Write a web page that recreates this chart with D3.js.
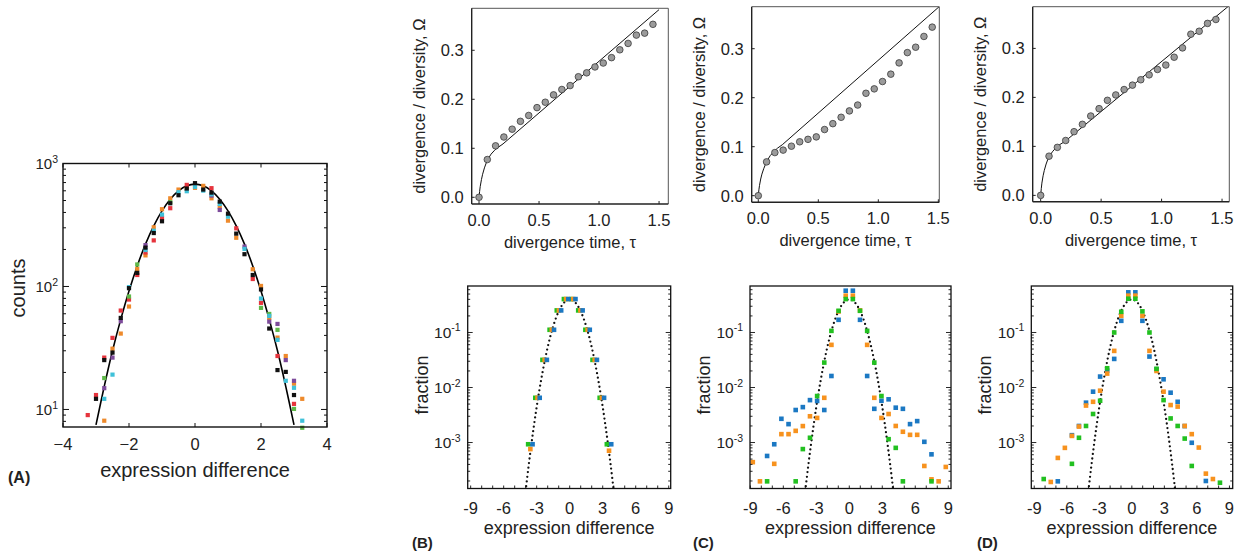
<!DOCTYPE html>
<html>
<head>
<meta charset="utf-8">
<script src="https://cdn.jsdelivr.net/npm/d3@7"></script>
<style>
  body { margin: 0; background: #fff; }
  svg { display: block; }
  text { font-family: "Liberation Sans", Arial, Helvetica, sans-serif; fill: #222; }
</style>
</head>
<body>
<svg id="fig" width="1244" height="557"></svg>
<script>
const _ = null;

// ---------- (A) counts of expression differences, six replicate series ----------
const countBins = [-3.25,-3,-2.75,-2.5,-2.25,-2,-1.75,-1.5,-1.25,-1,-0.75,-0.5,-0.25,0,0.25,0.5,0.75,1,1.25,1.5,1.75,2,2.25,2.5,2.75,3,3.25];
const countsRed    = [9.0,13.1,26.4,38.2,63.7,78.3,124,189,237,361,433,_,670,_,_,630,_,_,297,_,115,73.6,_,27.2,_,11.1,_];
const countsOrange = [_,_,8.1,31.2,41.4,68.7,139,179,303,425,521,614,622,634,658,521,443,343,249,_,138,101,55.5,38.4,27.2,16.2,12.2];
const countsPurple = [_,_,14.9,26.4,52.2,_,_,217,_,_,_,_,_,_,_,548,419,_,_,211,_,_,51.8,49.6,25.2,17.1,_];
const countsGreen  = [_,_,18.0,_,_,82.9,151,_,_,_,484,_,_,_,_,_,_,_,_,_,_,67.0,59.8,44.4,_,10.1,7.1];
const countsCyan   = [_,_,12.2,19.2,_,98.8,_,198,284,384,_,584,595,646,602,562,469,370,_,202,_,79.8,57.6,36.8,17.1,15.0,8.1];
const countsBlack  = [_,12.2,25.2,29.0,55.5,96.9,129,207,272,339,475,552,626,692,614,580,490,391,269,183,124,94.6,45.5,20.9,20.2,13.1,_];
const countFitX = [-3,-2.75,-2.5,-2.25,-2,-1.75,-1.5,-1.25,-1,-0.75,-0.5,-0.25,0,0.25,0.5,0.75,1,1.25,1.5,1.75,2,2.25,2.5,2.75,3];
const countFitY = [7.5,15.4,30,54,92,147,221,311,412,513,600,659,680,659,600,513,412,311,221,147,92,54,30,15.4,7.5];
const countTicksX = [-4,-2,0,2,4];
const countTicksY = [10,100,1000];

// ---------- (B)-(D) top: divergence / diversity against divergence time ----------
const divTime = [0,0.069,0.138,0.207,0.276,0.345,0.414,0.483,0.552,0.621,0.69,0.759,0.828,0.897,0.966,1.035,1.104,1.173,1.242,1.311,1.38,1.449];
const omegaB = [0,0.077,0.105,0.123,0.139,0.155,0.167,0.183,0.194,0.209,0.220,0.228,0.246,0.254,0.266,0.274,0.285,0.301,0.314,0.331,0.335,0.353];
const omegaC = [0,0.069,0.088,0.093,0.101,0.110,0.115,0.120,0.135,0.147,0.160,0.173,0.185,0.209,0.218,0.233,0.248,0.271,0.292,0.303,0.325,0.344];
const omegaD = [0,0.080,0.098,0.112,0.130,0.145,0.162,0.177,0.194,0.205,0.216,0.225,0.236,0.246,0.257,0.266,0.282,0.301,0.329,0.335,0.351,0.359];
const theoryTauB = [0,0.005,0.01,0.02,0.03,0.045,0.06,0.08,0.1,0.13,0.16,0.2,1.5];
const theoryB    = [0,0.012,0.022,0.036,0.047,0.060,0.070,0.080,0.088,0.096,0.102,0.109,0.383];
const theoryTauC = [0,0.005,0.01,0.02,0.03,0.045,0.06,0.08,0.1,0.13,0.16,0.2,1.508];
const theoryC    = [0,0.012,0.021,0.034,0.044,0.055,0.064,0.074,0.082,0.090,0.097,0.104,0.386];
const theoryTauD = [0,0.005,0.01,0.02,0.03,0.045,0.06,0.08,0.1,0.13,0.16,0.2,1.56];
const theoryD    = [0,0.014,0.025,0.040,0.051,0.064,0.074,0.083,0.090,0.098,0.104,0.110,0.3875];
const tauTicks = [0,0.5,1,1.5];
const tauTickLabels = ["0.0","0.5","1.0","1.5"];
const omegaTicks = [0,0.1,0.2,0.3];
const omegaTickLabels = ["0.0","0.1","0.2","0.3"];

// ---------- (B)-(D) bottom: fraction per expression-difference bin ----------
const fracBins = [-8.775,-8.125,-7.475,-6.825,-6.175,-5.525,-4.875,-4.225,-3.575,-2.925,-2.275,-1.625,-0.975,-0.325,
                  0.325,0.975,1.625,2.275,2.925,3.575,4.225,4.875,5.525,6.175,6.825,7.475,8.125,8.775];
const fracGreenB  = [_,_,_,_,_,_,_,_,0.00093,0.0065,0.0318,0.112,0.252,0.405,0.405,0.252,0.112,0.0318,0.0065,0.00093,_,_,_,_,_,_,_,_];
const fracOrangeB = [_,_,_,_,_,_,_,_,0.00076,0.0065,0.0318,0.112,0.252,0.405,0.405,0.252,0.112,0.0318,0.0065,0.00071,_,_,_,_,_,_,_,_];
const fracBlueB   = [_,_,_,_,_,_,_,_,0.00093,0.0065,0.0318,0.112,0.252,0.405,0.405,0.252,0.112,0.0318,0.0065,0.00093,_,_,_,_,_,_,_,_];
const fracBlueC   = [_,_,5.7e-4,9.3e-4,2.7e-3,2.16e-3,3.9e-3,4.4e-3,5.9e-3,5.7e-3,3.9e-3,0.0162,0.17,0.575,0.575,0.17,0.0162,4.1e-3,5.75e-3,6.1e-3,4.3e-3,4.1e-3,2.16e-3,2.45e-3,1.03e-3,6.1e-4,_,_];
const fracOrangeC = [4.4e-4,1.97e-4,_,4.1e-4,1.42e-3,1.42e-3,1.63e-3,1.99e-3,3.0e-3,2.8e-3,6.5e-3,0.0596,0.241,0.467,0.467,0.252,0.0596,6.5e-3,2.8e-3,3.3e-3,2.0e-3,1.57e-3,1.38e-3,1.38e-3,3.75e-4,2.14e-4,1.97e-4,3.6e-4];
const fracGreenC  = [_,_,1.97e-4,_,_,_,1.97e-4,7.6e-4,1.22e-3,7.0e-3,0.0284,0.107,0.248,0.405,0.405,0.248,0.107,0.0284,7.0e-3,1.15e-3,8.0e-4,1.97e-4,_,_,_,1.97e-4,_,_];
const fracBlueD   = [_,_,_,1.97e-4,_,1.36e-3,2.0e-3,5.3e-3,8.4e-3,0.0158,0.0203,0.0331,0.163,0.537,0.537,0.163,0.0365,0.0214,0.0141,8.05e-3,5.5e-3,1.99e-3,9.9e-4,_,2.0e-4,_,_,_];
const fracOrangeD = [_,_,1.92e-4,5.25e-4,8.0e-4,1.32e-3,1.95e-3,4.7e-3,5.5e-3,8.75e-3,0.0179,0.0463,0.201,0.467,0.467,0.201,0.0463,0.02,8.4e-3,4.8e-3,4.5e-3,2.0e-3,1.42e-3,8.1e-4,2.72e-4,2.17e-4,_,_];
const fracGreenD  = [_,2.17e-4,_,_,_,4.1e-4,1.22e-3,2.0e-3,3.3e-3,5.75e-3,0.0224,0.1,0.238,0.411,0.411,0.242,0.1,0.0219,5.9e-3,2.74e-3,2.0e-3,1.18e-3,3.75e-4,_,_,_,1.86e-4,_];
const neutralX = [-4,-3.75,-3.5,-3.25,-3,-2.75,-2.5,-2.25,-2,-1.75,-1.5,-1.25,-1,-0.75,-0.5,-0.25,0,
                  0.25,0.5,0.75,1,1.25,1.5,1.75,2,2.25,2.5,2.75,3,3.25,3.5,3.75,4];
const neutralY = [0.000134,0.000353,0.00087,0.00203,0.00443,0.00909,0.0175,0.0317,0.054,0.0863,0.1295,0.183,0.242,0.301,0.352,0.387,0.399,
                  0.387,0.352,0.301,0.242,0.183,0.1295,0.0863,0.054,0.0317,0.0175,0.00909,0.00443,0.00203,0.00087,0.000353,0.000134];
const diffTicks = [-9,-6,-3,0,3,6,9];
const diffMinorTicks = d3.range(-9, 10, 1);
const fracTicks = [1e-3,1e-2,1e-1];
const fracTickExp = ["-3","-2","-1"];

// ---------- palette ----------
const colA = { red:"#e6343d", orange:"#ee8a2c", purple:"#7d4b9b", green:"#5eb848", cyan:"#3fc1d9", black:"#111" };
const colF = { blue:"#1b78c3", orange:"#f7921e", green:"#22c020" };

const svg = d3.select("#fig");
const defs = svg.append("defs");
let clipCount = 0;
function makeClip(x0, y0, x1, y1) {
  const id = "clip" + (clipCount++);
  defs.append("clipPath").attr("id", id).append("rect")
    .attr("x", x0).attr("y", y0).attr("width", x1 - x0).attr("height", y1 - y0);
  return "url(#" + id + ")";
}
function hline(g, x1, x2, y, stroke, w) {
  g.append("line").attr("x1", x1).attr("x2", x2).attr("y1", y).attr("y2", y)
    .attr("stroke", stroke).attr("stroke-width", w);
}
function vline(g, x, y1, y2, stroke, w) {
  g.append("line").attr("x1", x).attr("x2", x).attr("y1", y1).attr("y2", y2)
    .attr("stroke", stroke).attr("stroke-width", w);
}
function logMinor(domain) {
  const out = [];
  const k0 = Math.floor(Math.log10(domain[0])), k1 = Math.ceil(Math.log10(domain[1]));
  for (let k = k0; k <= k1; k++) for (let m = 1; m <= 9; m++) {
    const v = m * Math.pow(10, k);
    if (v >= domain[0] && v <= domain[1]) out.push(v);
  }
  return out;
}
function powerLabel(g, x, y, exp, size, supSize, supDy) {
  const t = g.append("text").attr("x", x).attr("y", y).attr("text-anchor", "end").style("font-size", size + "px");
  t.append("tspan").text("10");
  t.append("tspan").attr("dy", supDy).style("font-size", supSize + "px").text(exp);
}
function squares(g, x, y, bins, vals, color, size, dx) {
  const pts = bins.map((b, i) => [b, vals[i]]).filter(d => d[1] != null);
  g.selectAll(null).data(pts).enter().append("rect")
    .attr("x", d => x(d[0] + (dx || 0)) - size / 2)
    .attr("y", d => y(d[1]) - size / 2)
    .attr("width", size).attr("height", size)
    .attr("fill", color);
}

// ================= Panel A =================
(function () {
  const L = 63, R = 327, T = 163.5, B = 427;
  const x = d3.scaleLinear().domain([-4, 4]).range([L, R]);
  const yDom = [7.2, 1000];
  const y = d3.scaleLog().domain(yDom).range([B, T]);
  const g = svg.append("g");

  // fitted curve
  const line = d3.line().x((d, i) => x(countFitX[i])).y(d => y(d)).curve(d3.curveCatmullRom);
  g.append("path").attr("d", line(countFitY)).attr("fill", "none").attr("stroke", "#000")
    .attr("stroke-width", 1.6).attr("clip-path", makeClip(L, T, R, B));

  const sq = 4.2;
  squares(g, x, y, countBins, countsOrange, colA.orange, sq);
  squares(g, x, y, countBins, countsRed, colA.red, sq);
  squares(g, x, y, countBins, countsPurple, colA.purple, sq);
  squares(g, x, y, countBins, countsGreen, colA.green, sq);
  squares(g, x, y, countBins, countsCyan, colA.cyan, sq);
  squares(g, x, y, countBins, countsBlack, colA.black, sq);

  // frame and ticks
  g.append("rect").attr("x", L).attr("y", T).attr("width", R - L).attr("height", B - T)
    .attr("fill", "none").attr("stroke", "#111").attr("stroke-width", 1.4);
  countTicksX.forEach(v => {
    vline(g, x(v), B, B - 4, "#111", 1); vline(g, x(v), T, T + 4, "#111", 1);
  });
  logMinor(yDom).forEach(v => {
    const major = countTicksY.includes(v);
    const len = major ? 6 : 3;
    hline(g, L, L + len, y(v), "#111", 1); hline(g, R, R - len, y(v), "#111", 1);
  });

  // labels
  countTicksX.forEach(v => {
    g.append("text").attr("x", x(v)).attr("y", 450).attr("text-anchor", "middle")
      .style("font-size", "16.5px").text(v < 0 ? "\u2212" + Math.abs(v) : String(v));
  });
  countTicksY.forEach(v => powerLabel(g, 58, y(v) + 5.5, String(Math.round(Math.log10(v))), 15, 10.5, -6));
  g.append("text").attr("x", (L + R) / 2).attr("y", 477).attr("text-anchor", "middle")
    .style("font-size", "20px").text("expression difference");
  g.append("text").attr("transform", "translate(25,288) rotate(-90)").attr("text-anchor", "middle")
    .style("font-size", "20px").text("counts");
  g.append("text").attr("x", 8).attr("y", 483).style("font-size", "16px").style("font-weight", "bold").text("(A)");
})();

// ================= Top row: Omega vs tau =================
function topPanel(o) {
  const x = d3.scaleLinear().domain(o.xDom).range([o.L, o.R]);
  const y = d3.scaleLinear().domain(o.yDom).range([o.B, o.T]);
  const g = svg.append("g");

  const line = d3.line().x((d, i) => x(o.tau[i])).y(d => y(d));
  g.append("path").attr("d", line(o.theory)).attr("fill", "none").attr("stroke", "#111")
    .attr("stroke-width", 1).attr("clip-path", makeClip(o.L, o.T, o.R, o.B));

  // borders: top/right light, left/bottom axes dark
  hline(g, o.L, o.R, o.T, "#555", 1);
  vline(g, o.R, o.T, o.B, "#555", 1);
  vline(g, o.L, o.T, o.B, "#222", 1.4);
  hline(g, o.L, o.R, o.B, "#222", 1.4);
  tauTicks.forEach(v => vline(g, x(v), o.B, o.B - 3, "#222", 1));
  omegaTicks.forEach(v => hline(g, o.L, o.L + 3, y(v), "#222", 1));

  g.selectAll(null).data(o.omega).enter().append("circle")
    .attr("cx", (d, i) => x(divTime[i])).attr("cy", d => y(d)).attr("r", 3.3)
    .attr("fill", "#9b9b9b").attr("stroke", "#3a3a3a").attr("stroke-width", 0.8);

  tauTicks.forEach((v, i) => g.append("text").attr("x", x(v)).attr("y", o.B + 22)
    .attr("text-anchor", "middle").style("font-size", "16.5px").text(tauTickLabels[i]));
  omegaTicks.forEach((v, i) => g.append("text").attr("x", o.L - 8).attr("y", y(v) + 6)
    .attr("text-anchor", "end").style("font-size", "16.5px").text(omegaTickLabels[i]));
  g.append("text").attr("x", (o.L + o.R) / 2).attr("y", o.B + 44).attr("text-anchor", "middle")
    .style("font-size", "16.5px").text("divergence time, \u03c4");
  g.append("text").attr("transform", `translate(${o.L - 47},${(o.T + o.B) / 2}) rotate(-90)`)
    .attr("text-anchor", "middle").style("font-size", "16.5px").text("divergence / diversity, \u03a9");
}
topPanel({ L: 471.7, R: 668.3, T: 8.3, B: 204, xDom: [-0.061, 1.577], yDom: [-0.0137, 0.3857],
           tau: theoryTauB, theory: theoryB, omega: omegaB });
topPanel({ L: 751.7, R: 939.3, T: 6.7, B: 202.3, xDom: [-0.055, 1.508], yDom: [-0.0135, 0.3857],
           tau: theoryTauC, theory: theoryC, omega: omegaC });
topPanel({ L: 1032.7, R: 1229.3, T: 6.7, B: 201.7, xDom: [-0.066, 1.56], yDom: [-0.0129, 0.3851],
           tau: theoryTauD, theory: theoryD, omega: omegaD });

// ================= Bottom row: fraction vs expression difference =================
function bottomPanel(o) {
  const T = 286, B = 488.5;
  const x = d3.scaleLinear().domain(o.xDom).range([o.L, o.R]);
  const yDom = [1.46e-4, 0.70];
  const y = d3.scaleLog().domain(yDom).range([B, T]);
  const g = svg.append("g");

  const line = d3.line().x((d, i) => x(neutralX[i])).y(d => y(d)).curve(d3.curveCatmullRom);
  g.append("path").attr("d", line(neutralY)).attr("fill", "none").attr("stroke", "#111")
    .attr("stroke-width", 2.3).attr("stroke-linecap", "round").attr("stroke-dasharray", "0,4.6")
    .attr("clip-path", makeClip(o.L, T - 2, o.R, B));

  const sq = 4.6;
  o.series.forEach(s => squares(g, x, y, fracBins, s.vals, s.color, sq, s.dx));

  g.append("rect").attr("x", o.L).attr("y", T).attr("width", o.R - o.L).attr("height", B - T)
    .attr("fill", "none").attr("stroke", "#111").attr("stroke-width", 1.3);
  diffMinorTicks.forEach(v => vline(g, x(v), B, B - 3, "#111", 0.9));
  logMinor(yDom).forEach(v => {
    const len = fracTicks.includes(v) ? 5 : 2.5;
    hline(g, o.L, o.L + len, y(v), "#111", 0.9);
    hline(g, o.R, o.R - len, y(v), "#111", 0.9);
  });

  diffTicks.forEach(v => g.append("text").attr("x", x(v)).attr("y", 513.5).attr("text-anchor", "middle")
    .style("font-size", "16.5px").text(String(v)));
  fracTicks.forEach((v, i) => powerLabel(g, o.L - 7, y(v) + 5.5, fracTickExp[i], 15.5, 10.5, -6.5));
  g.append("text").attr("x", (o.L + o.R) / 2).attr("y", 533.5).attr("text-anchor", "middle")
    .style("font-size", "18px").text("expression difference");
  g.append("text").attr("transform", `translate(${o.L - 40},385) rotate(-90)`).attr("text-anchor", "middle")
    .style("font-size", "18px").text("fraction");
  g.append("text").attr("x", o.labelX).attr("y", 548).style("font-size", "15px")
    .style("font-weight", "bold").text(o.label);
}
bottomPanel({ L: 467.7, R: 670.7, xDom: [-9.27, 9.18], label: "(B)", labelX: 412,
  series: [ { vals: fracGreenB, color: colF.green, dx: -0.2 },
            { vals: fracOrangeB, color: colF.orange, dx: 0 },
            { vals: fracBlueB, color: colF.blue, dx: 0.2 } ] });
bottomPanel({ L: 750, R: 951, xDom: [-9.03, 9.25], label: "(C)", labelX: 693,
  series: [ { vals: fracBlueC, color: colF.blue },
            { vals: fracOrangeC, color: colF.orange },
            { vals: fracGreenC, color: colF.green } ] });
bottomPanel({ L: 1031.3, R: 1232.7, xDom: [-9.27, 9.3], label: "(D)", labelX: 977,
  series: [ { vals: fracBlueD, color: colF.blue },
            { vals: fracOrangeD, color: colF.orange },
            { vals: fracGreenD, color: colF.green } ] });
</script>
</body>
</html>
